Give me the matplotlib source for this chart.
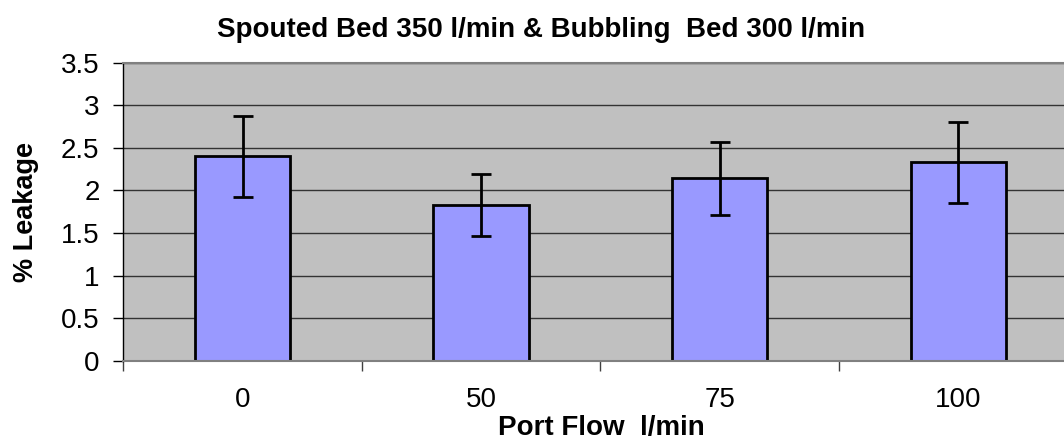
import matplotlib
matplotlib.use("Agg")
import matplotlib.pyplot as plt
from matplotlib.ticker import FixedLocator

categories = ["0", "50", "75", "100"]
leakage = [2.40, 1.83, 2.14, 2.33]
errors = [0.475, 0.365, 0.43, 0.475]
yticks = [0, 0.5, 1, 1.5, 2, 2.5, 3, 3.5]
ytick_labels = ["0", "0.5", "1", "1.5", "2", "2.5", "3", "3.5"]

plt.rcParams['font.family'] = ['Liberation Sans', 'DejaVu Sans']

W, H = 1064, 441
fig = plt.figure(figsize=(W/100, H/100), dpi=100)
ax = fig.add_axes([123.2/W, 1 - 360.7/H, (1077.6-123.2)/W, (360.7-62.7)/H])
ax.set_facecolor('#C0C0C0')

x = list(range(len(categories)))
ax.set_axisbelow(True)
ax.yaxis.grid(True, color='#333333', linewidth=1.0)
ax.bar(x, leakage, width=0.40, color='#9999FF', edgecolor='black', linewidth=2.0, zorder=2)
ax.errorbar(x, leakage, yerr=errors, fmt='none', ecolor='black', elinewidth=2.0,
            capsize=7.5, capthick=2.0, zorder=3)

ax.set_xlim(-0.5, len(categories) - 0.5)
ax.set_ylim(0, 3.5)
ax.set_yticks(yticks)
ax.set_yticklabels(ytick_labels, fontsize=20)
ax.set_xticks(x)
ax.set_xticklabels(categories, fontsize=20)
ax.xaxis.set_minor_locator(FixedLocator([i - 0.5 for i in range(len(categories) + 1)]))
ax.tick_params(axis='x', which='major', length=0, pad=19)
ax.tick_params(axis='x', which='minor', length=7, width=1, color='#404040', direction='out')
ax.tick_params(axis='y', which='major', length=7, width=1, color='black', direction='out', pad=10)

for s in ['top', 'right', 'bottom']:
    ax.spines[s].set_color('#808080')
    ax.spines[s].set_linewidth(1.5)
ax.spines['left'].set_color('black')
ax.spines['left'].set_linewidth(1.0)

fig.text(541.5/W, 1 - 37/H, "Spouted Bed 350 l/min & Bubbling  Bed 300 l/min",
         fontsize=20, fontweight='bold', ha='center', va='baseline')
fig.text(601/W, 1 - 435/H, "Port Flow  l/min", fontsize=20, fontweight='bold',
         ha='center', va='baseline')
fig.text(33/W, 1 - 212.5/H, "% Leakage", fontsize=19.5, fontweight='bold',
         ha='center', va='baseline', rotation=90, rotation_mode='anchor')

fig.savefig("out.png", dpi=100)
